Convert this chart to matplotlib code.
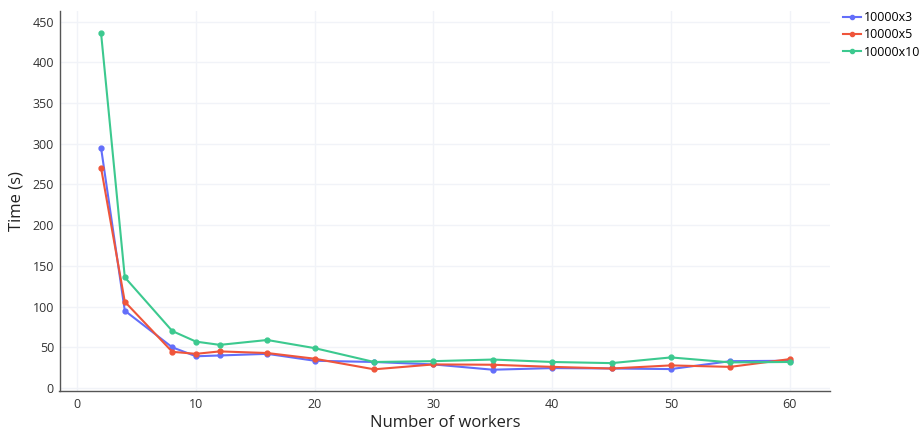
import matplotlib
matplotlib.use("Agg")
import matplotlib.pyplot as plt

plt.rcParams['font.family'] = ['Open Sans', 'DejaVu Sans']

workers = [2, 4, 8, 10, 12, 16, 20, 25, 30, 35, 40, 45, 50, 55, 60]
t_10000x3 = [295, 95, 50, 39, 40, 42, 33.5, 32, 29, 22.5, 24.5, 24, 23.3, 33, 33.5]
t_10000x5 = [270.5, 106, 44.5, 42, 45, 43, 36, 23, 29, 28.6, 26, 24, 27.8, 26, 35.5]
t_10000x10 = [436, 136, 70, 57, 53, 59, 49, 32, 33, 35, 32, 30.6, 37.6, 31.5, 32]

series_names = ['10000x3', '10000x5', '10000x10']
series_colors = ['#636efa', '#EF553B', '#3cc98f']

fig = plt.figure(figsize=(9.19, 4.32), dpi=100)
ax = fig.add_axes([59.5/919, 1 - 391.3/432, (830 - 59.5)/919, (391.3 - 11)/432])

for vals, name, col in zip([t_10000x3, t_10000x5, t_10000x10], series_names, series_colors):
    ax.plot(workers, vals, color=col, lw=1.5, marker='o', ms=3.5, label=name, zorder=3)

ax.set_xlim(-1.5, 63.4)
ax.set_ylim(-4.0, 463)
ax.set_xticks(range(0, 61, 10))
ax.set_yticks(range(0, 451, 50))
ax.grid(True, color='#F1F3F8', lw=1)
ax.set_axisbelow(True)
for s in ['top', 'right']:
    ax.spines[s].set_visible(False)
ax.spines['left'].set_color('#555555')
ax.spines['bottom'].set_color('#555555')
ax.spines['left'].set_linewidth(1)
ax.spines['bottom'].set_linewidth(1)
ax.tick_params(axis='both', length=0, labelsize=9, labelcolor='#333333')
ax.tick_params(axis='x', pad=5)
ax.tick_params(axis='y', pad=4)

ax.set_xlabel('Number of workers', fontsize=12, color='#222222', labelpad=3)
ax.set_ylabel('Time (s)', fontsize=12, color='#222222', labelpad=6)

leg = fig.legend(loc='upper left', bbox_to_anchor=(843/919, 1 - 11/432), frameon=False,
                 fontsize=9, handlelength=1.4, handletextpad=0.3, labelspacing=0.35,
                 borderaxespad=0, borderpad=0)
for h in leg.legend_handles:
    h.set_markersize(3)

fig.savefig('out.png', dpi=100)
